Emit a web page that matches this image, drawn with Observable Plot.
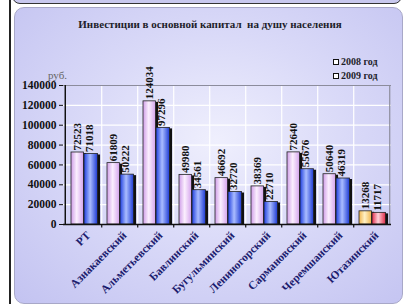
<!DOCTYPE html>
<html>
<head>
<meta charset="utf-8">
<script src="https://cdn.jsdelivr.net/npm/d3@7"></script>
<script src="https://cdn.jsdelivr.net/npm/@observablehq/plot@0.6"></script>
<style>
  html, body { margin: 0; padding: 0; background: #ffffff; }
  #wrap { position: relative; width: 405px; height: 304px; overflow: hidden; background: #fff; }
  #topbar { position: absolute; left: 12px; top: -12px; width: 388px; height: 14px; background: #c8c8ee; border: 1.5px solid #333; border-radius: 8px; }
  #vline { position: absolute; left: 9px; top: 0; width: 2px; height: 304px; background: #222; }
  #panel { position: absolute; left: 14px; top: 7px; width: 387px; height: 295px; border-radius: 10px; border: 1px solid #a8a8c8;
    background: radial-gradient(ellipse at 52% 45%, #efeffd 0%, #dadaf8 45%, #c3c3f1 100%); }
  #title { position: absolute; left: 16px; width: 388px; top: 18px; text-align: center; font: bold 11px "Liberation Serif", serif; color: #1e1e2a; }
  .leg { position: absolute; left: 333px; font: bold 10px "Liberation Serif", serif; color: #1e1e2a; white-space: nowrap; }
  .leg span.sw { display: inline-block; width: 4px; height: 4px; border: 1.5px solid #111; background: #fff; margin-right: 2px; vertical-align: 0px; }
  #unit { position: absolute; left: 48px; top: 69px; font: 11px "Liberation Serif", serif; color: #666; }
  #chart { position: absolute; left: 0; top: 0; }
</style>
</head>
<body>
<svg width="0" height="0" style="position:absolute">
  <defs>
    <linearGradient id="gLav" x1="0" x2="1" y1="0" y2="0">
      <stop offset="0" stop-color="#cf9de8"/><stop offset="0.45" stop-color="#fbeffe"/><stop offset="1" stop-color="#d4a3ec"/>
    </linearGradient>
    <linearGradient id="gBlue" x1="0" x2="1" y1="0" y2="0">
      <stop offset="0" stop-color="#2040e0"/><stop offset="0.45" stop-color="#aabcff"/><stop offset="1" stop-color="#1d3ad4"/>
    </linearGradient>
    <linearGradient id="gYel" x1="0" x2="1" y1="0" y2="0">
      <stop offset="0" stop-color="#f1b54c"/><stop offset="0.45" stop-color="#fff1c6"/><stop offset="1" stop-color="#f0b44a"/>
    </linearGradient>
    <linearGradient id="gRed" x1="0" x2="1" y1="0" y2="0">
      <stop offset="0" stop-color="#e22c4a"/><stop offset="0.45" stop-color="#ffd2da"/><stop offset="1" stop-color="#e02a48"/>
    </linearGradient>
  </defs>
</svg>
<div id="wrap">
  <div id="vline"></div>
  <div id="panel"></div>
  <div id="topbar"></div>
  <div id="title">Инвестиции в основной капитал&nbsp; на душу населения</div>
  <div class="leg" style="top:56px"><span class="sw"></span>2008 год</div>
  <div class="leg" style="top:70px"><span class="sw"></span>2009 год</div>
  <div id="unit">руб.</div>
  <div id="chart"></div>
</div>
<script>
const categories = ["РТ","Азнакаевский","Альметьевский","Бавлинский","Бугульминский","Лениногорский","Сармановский","Черемшанский","Ютазинский"];
const v2008 = [72523, 61809, 124034, 49980, 46692, 38369, 72640, 50640, 13268];
const v2009 = [71018, 50222, 97296, 34561, 32720, 22710, 55676, 46319, 11717];
const yTicks = [0, 20000, 40000, 60000, 80000, 100000, 120000, 140000];

const W = 405, H = 304, mL = 63, mR = 14, mT = 85, mB = 80;
const bw = (W - mL - mR) / categories.length;

const rows08 = categories.map((c, i) => ({cat: c, value: v2008[i]}));
const rows09 = categories.map((c, i) => ({cat: c, value: v2009[i]}));
const special = "Ютазинский";

const chart = Plot.plot({
  width: W, height: H,
  marginLeft: mL, marginRight: mR, marginTop: mT, marginBottom: mB,
  style: {background: "transparent", fontFamily: "Liberation Serif, serif", fontWeight: "bold", fontSize: "11.5px", color: "#111"},
  x: {domain: categories, padding: 0, axis: null},
  y: {domain: [0, 140000], ticks: yTicks, tickFormat: d => String(d), tickSize: 4, tickPadding: 3, label: null},
  marks: [
    Plot.ruleY(yTicks.slice(1, -1), {stroke: "#ffffff", strokeWidth: 1.2}),
    Plot.ruleX(categories.slice(0, -1), {x: d => d, dx: bw / 2, stroke: "#ffffff", strokeWidth: 1.2}),
    Plot.ruleY([140000], {stroke: "#8c8c9c", strokeWidth: 1.2}),
    Plot.ruleX(categories.slice(-1), {x: d => d, dx: bw / 2, stroke: "#8c8c9c", strokeWidth: 1.2}),
    Plot.barY(rows08, {x: "cat", y: "value", fill: "#111", insetLeft: 6, insetRight: bw - 19, dx: 2.5, dy: 1}),
    Plot.barY(rows09, {x: "cat", y: "value", fill: "#111", insetLeft: 19, insetRight: bw - 33, dx: 2.5, dy: 1}),
    Plot.barY(rows08, {x: "cat", y: "value", insetLeft: 6, insetRight: bw - 19,
      fill: d => d.cat === special ? "url(#gYel)" : "url(#gLav)", stroke: "#222", strokeWidth: 0.8}),
    Plot.barY(rows09, {x: "cat", y: "value", insetLeft: 19, insetRight: bw - 33,
      fill: d => d.cat === special ? "url(#gRed)" : "url(#gBlue)", stroke: "#222", strokeWidth: 0.8}),
    Plot.ruleY([0], {stroke: "#111", strokeWidth: 1.5}),
    Plot.ruleX(categories.slice(0, 1), {x: d => d, dx: -bw / 2, stroke: "#111", strokeWidth: 1.5}),
    Plot.ruleX(categories.slice(0, -1), {x: d => d, dx: bw / 2, y1: -3500, y2: 0, stroke: "#111", strokeWidth: 1.2}),
    Plot.text(rows08, {x: "cat", y: "value", text: d => String(d.value), rotate: -90, textAnchor: "start",
      dx: 12.5 - bw / 2, dy: -2, fill: "#111", fontSize: 11, fontWeight: "bold"}),
    Plot.text(rows09, {x: "cat", y: "value", text: d => String(d.value), rotate: -90, textAnchor: "start",
      dx: 24 - bw / 2, dy: -2, fill: "#111", fontSize: 11, fontWeight: "bold"}),
    Plot.text(categories, {x: d => d, y: () => 0, text: d => d, rotate: -45, textAnchor: "end",
      dx: 5, dy: 9, fill: "#1c1c6e", fontSize: 11.5, fontWeight: "bold"})
  ]
});
document.getElementById("chart").appendChild(chart);
</script>
</body>
</html>
